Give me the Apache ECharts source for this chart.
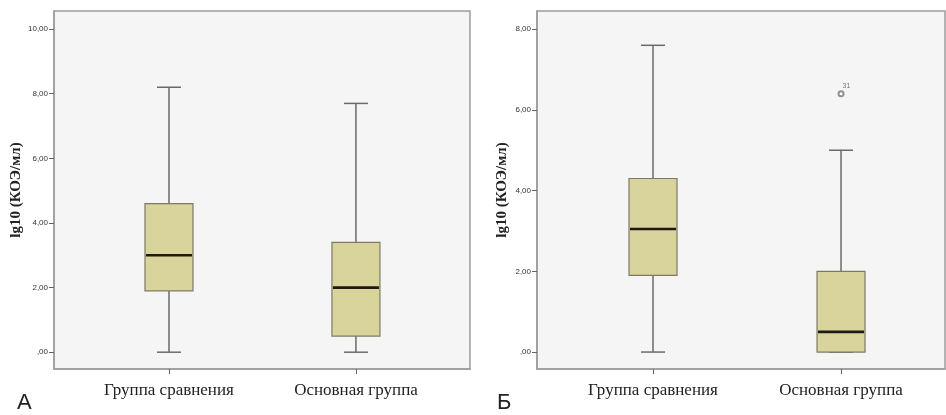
<!DOCTYPE html>
<html><head><meta charset="utf-8">
<script src="https://cdn.jsdelivr.net/npm/echarts@6/dist/echarts.min.js"></script>
<style>html,body{margin:0;padding:0;background:#fff}#c{width:946px;height:415px}</style>
</head><body><div id="c"></div>
<script>
// ---- data ----
const categories = ['Группа сравнения', 'Основная группа'];
const yTicksA = [0, 2, 4, 6, 8, 10];
const yTicksB = [0, 2, 4, 6, 8];
// [min, Q1, median, Q3, max]
const boxesA = [[0, 1.9, 3.0, 4.6, 8.2], [0, 0.5, 2.0, 3.4, 7.7]];
const boxesB = [[0, 1.9, 3.05, 4.3, 7.6], [0, 0, 0.5, 2.0, 5.0]];
const outliersB = [[1, 6.4, '31']];
const axisName = 'lg10 (КОЭ/мл)';
const panelLabels = ['А', 'Б'];

// ---- styles ----
const frameColor = '#9c9c9c';
const plotBg = '#f5f5f5';
const boxFill = '#d9d39c';
const lineColor = '#6a6a6a';

function fmtY(v) {
  if (v === 0) return ',00';
  return v.toFixed(2).replace('.', ',');
}

function renderBox(params, api) {
  const x = api.value(0);
  const p = [1, 2, 3, 4, 5].map(i => api.coord([x, api.value(i)]));
  const cx = p[0][0];
  const hw = 24, cw = 12;
  const lineStyle = { stroke: lineColor, lineWidth: 1.5 };
  return {
    type: 'group',
    children: [
      { type: 'line', shape: { x1: cx, y1: p[0][1], x2: cx, y2: p[1][1] }, style: lineStyle },
      { type: 'line', shape: { x1: cx, y1: p[3][1], x2: cx, y2: p[4][1] }, style: lineStyle },
      { type: 'line', shape: { x1: cx - cw, y1: p[0][1], x2: cx + cw, y2: p[0][1] }, style: lineStyle },
      { type: 'line', shape: { x1: cx - cw, y1: p[4][1], x2: cx + cw, y2: p[4][1] }, style: lineStyle },
      { type: 'rect', shape: { x: cx - hw, y: p[3][1], width: hw * 2, height: p[1][1] - p[3][1] },
        style: { fill: boxFill, stroke: '#7c7a66', lineWidth: 1.2 } },
      { type: 'line', shape: { x1: cx - hw + 1, y1: p[2][1], x2: cx + hw - 1, y2: p[2][1] },
        style: { stroke: '#1e1a10', lineWidth: 2.6 } }
    ]
  };
}

function yAxis(gridIndex, min, max, ticks, gap) {
  return {
    type: 'value', gridIndex, min, max,
    name: axisName, nameLocation: 'middle', nameGap: gap,
    nameTextStyle: { fontFamily: 'Liberation Serif', fontWeight: 'bold', fontSize: 15, color: '#222' },
    axisLine: { show: true, onZero: false, lineStyle: { color: frameColor, width: 1.5 } },
    axisTick: { show: true, length: 5, customValues: ticks, lineStyle: { color: '#666', width: 1 } },
    axisLabel: { customValues: ticks, formatter: fmtY, fontFamily: 'Liberation Sans', fontSize: 8, color: '#333', margin: 6 },
    splitLine: { show: false }
  };
}
function xAxis(gridIndex, min, max) {
  return {
    type: 'value', gridIndex, min, max,
    axisLine: { show: true, onZero: false, lineStyle: { color: frameColor, width: 1.5 } },
    axisTick: { show: true, length: 5, customValues: [0, 1], lineStyle: { color: '#666', width: 1 } },
    axisLabel: { customValues: [0, 1], formatter: v => categories[Math.round(v)] || '',
      fontFamily: 'Liberation Serif', fontSize: 17, color: '#222', margin: 13 },
    splitLine: { show: false }
  };
}

const chart = echarts.init(document.getElementById('c'), null, { renderer: 'canvas' });
chart.setOption({
  animation: false,
  backgroundColor: '#ffffff',
  grid: [
    { left: 54, top: 11, width: 416, height: 358, show: true, backgroundColor: plotBg, borderColor: frameColor, borderWidth: 1.5 },
    { left: 537, top: 11, width: 408, height: 358, show: true, backgroundColor: plotBg, borderColor: frameColor, borderWidth: 1.5 }
  ],
  xAxis: [xAxis(0, -0.615, 1.61), xAxis(1, -0.617, 1.553)],
  yAxis: [yAxis(0, -0.52, 10.56, yTicksA, 27), yAxis(1, -0.42, 8.45, yTicksB, 27)],
  series: [
    { type: 'custom', xAxisIndex: 0, yAxisIndex: 0, renderItem: renderBox,
      data: boxesA.map((b, i) => [i].concat(b)), encode: { x: 0, y: [1, 2, 3, 4, 5] } },
    { type: 'custom', xAxisIndex: 1, yAxisIndex: 1, renderItem: renderBox,
      data: boxesB.map((b, i) => [i].concat(b)), encode: { x: 0, y: [1, 2, 3, 4, 5] } },
    { type: 'scatter', xAxisIndex: 1, yAxisIndex: 1, symbol: 'emptyCircle', symbolSize: 5,
      itemStyle: { color: '#777', borderColor: '#777', borderWidth: 1 },
      label: { show: true, formatter: p => p.data[2], position: [5, -8], fontSize: 7, fontFamily: 'Liberation Sans', color: '#555' },
      data: outliersB }
  ],
  graphic: [
    { type: 'text', left: 17, top: 392, style: { text: panelLabels[0], font: '22px "Liberation Sans"', fill: '#222' } },
    { type: 'text', left: 497, top: 392, style: { text: panelLabels[1], font: '22px "Liberation Sans"', fill: '#222' } }
  ]
});
</script>
</body></html>
